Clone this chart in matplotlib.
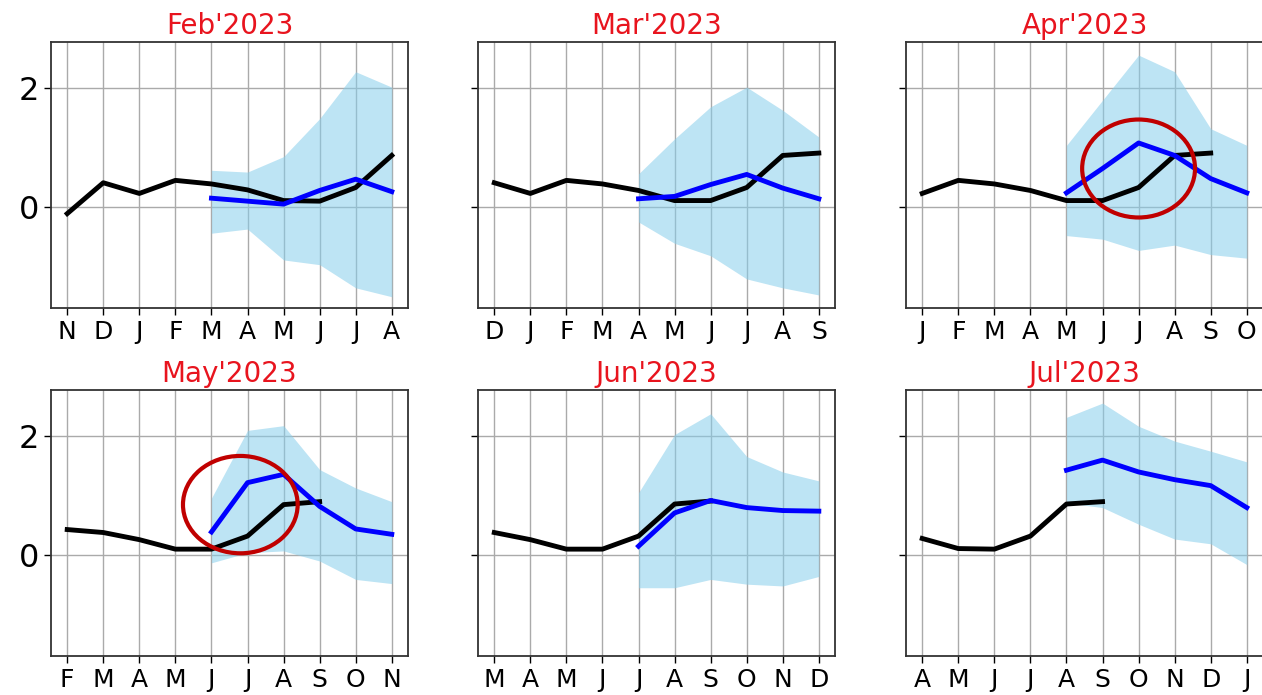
import matplotlib.pyplot as plt
from matplotlib.patches import Ellipse

# panel titles
titles = ["Feb'2023", "Mar'2023", "Apr'2023", "May'2023", "Jun'2023", "Jul'2023"]

# month labels per panel
feb_months = ["N", "D", "J", "F", "M", "A", "M", "J", "J", "A"]
mar_months = ["D", "J", "F", "M", "A", "M", "J", "J", "A", "S"]
apr_months = ["J", "F", "M", "A", "M", "J", "J", "A", "S", "O"]
may_months = ["F", "M", "A", "M", "J", "J", "A", "S", "O", "N"]
jun_months = ["M", "A", "M", "J", "J", "A", "S", "O", "N", "D"]
jul_months = ["A", "M", "J", "J", "A", "S", "O", "N", "D", "J"]

# observed (black)
feb_obs = [-0.11, 0.41, 0.23, 0.45, 0.39, 0.29, 0.11, 0.10, 0.33, 0.87]
mar_obs = [0.41, 0.23, 0.45, 0.39, 0.28, 0.11, 0.11, 0.33, 0.87, 0.91]
apr_obs = [0.23, 0.45, 0.39, 0.28, 0.11, 0.11, 0.33, 0.87, 0.91]
may_obs = [0.43, 0.38, 0.26, 0.10, 0.10, 0.32, 0.85, 0.90]
jun_obs = [0.38, 0.26, 0.10, 0.10, 0.32, 0.86, 0.91]
jul_obs = [0.28, 0.11, 0.10, 0.32, 0.86, 0.90]

# forecast mean (blue), starts at the 5th month of each panel
feb_fc = [0.15, 0.10, 0.05, 0.28, 0.47, 0.26]
mar_fc = [0.14, 0.18, 0.38, 0.55, 0.32, 0.14]
apr_fc = [0.24, 0.65, 1.08, 0.87, 0.48, 0.24]
may_fc = [0.39, 1.22, 1.36, 0.82, 0.44, 0.35]
jun_fc = [0.15, 0.71, 0.92, 0.80, 0.75, 0.74]
jul_fc = [1.43, 1.60, 1.40, 1.27, 1.17, 0.80]

# forecast spread (light blue band)
feb_hi = [0.62, 0.59, 0.85, 1.49, 2.28, 2.02]
feb_lo = [-0.44, -0.37, -0.89, -0.97, -1.36, -1.51]
mar_hi = [0.56, 1.15, 1.69, 2.02, 1.63, 1.18]
mar_lo = [-0.25, -0.61, -0.82, -1.21, -1.36, -1.48]
apr_hi = [1.04, 1.80, 2.56, 2.28, 1.32, 1.04]
apr_lo = [-0.48, -0.54, -0.73, -0.64, -0.80, -0.86]
may_hi = [0.96, 2.10, 2.18, 1.44, 1.13, 0.90]
may_lo = [-0.13, 0.04, 0.07, -0.10, -0.41, -0.48]
jun_hi = [1.05, 2.03, 2.38, 1.66, 1.40, 1.25]
jun_lo = [-0.55, -0.55, -0.41, -0.49, -0.52, -0.36]
jul_hi = [2.32, 2.56, 2.17, 1.92, 1.75, 1.57]
jul_lo = [0.88, 0.80, 0.52, 0.27, 0.19, -0.16]

panels = [
    (feb_months, feb_obs, feb_fc, feb_hi, feb_lo),
    (mar_months, mar_obs, mar_fc, mar_hi, mar_lo),
    (apr_months, apr_obs, apr_fc, apr_hi, apr_lo),
    (may_months, may_obs, may_fc, may_hi, may_lo),
    (jun_months, jun_obs, jun_fc, jun_hi, jun_lo),
    (jul_months, jul_obs, jul_fc, jul_hi, jul_lo),
]

# highlight circles: panel index -> (x, y, w, h)
circles = {2: (6.0, 0.65, 3.13, 1.65), 3: (4.8, 0.85, 3.18, 1.64)}

fig = plt.figure(figsize=(12.62, 6.95), dpi=100)
lefts = [0.0404, 0.3788, 0.7179]
bottoms = [0.5568, 0.0561]
w, h = 0.2829, 0.3827

for i, (months, obs, fc, hi, lo) in enumerate(panels):
    ax = fig.add_axes([lefts[i % 3], bottoms[i // 3], w, h])
    x = list(range(len(months)))
    xf = x[4:4 + len(fc)]
    ax.fill_between(xf, lo, hi, color="skyblue", alpha=0.55, lw=0, zorder=2)
    ax.plot(x[:len(obs)], obs, color="black", lw=3.5, zorder=3)
    ax.plot(xf, fc, color="blue", lw=3.5, zorder=4)
    if i in circles:
        cx, cy, cw, ch = circles[i]
        ax.add_patch(Ellipse((cx, cy), cw, ch, fill=False, ec="#c00000", lw=3, zorder=5))
    ax.set_xlim(-0.45, 9.45)
    ax.set_ylim(-1.7, 2.78)
    ax.set_xticks(x)
    ax.set_xticklabels(months, fontsize=18)
    ax.set_yticks([0, 2])
    if i % 3 == 0:
        ax.set_yticklabels(["0", "2"], fontsize=23)
    else:
        ax.set_yticklabels([])
    ax.grid(True, color="#aaaaaa", lw=1, zorder=1)
    ax.set_axisbelow(True)
    ax.tick_params(length=5, width=1)
    for s in ax.spines.values():
        s.set_color("#333333")
        s.set_linewidth(1.3)
    ax.set_title(titles[i], color="#e8141e", fontsize=20, pad=6)

fig.savefig("out.png", dpi=100)
